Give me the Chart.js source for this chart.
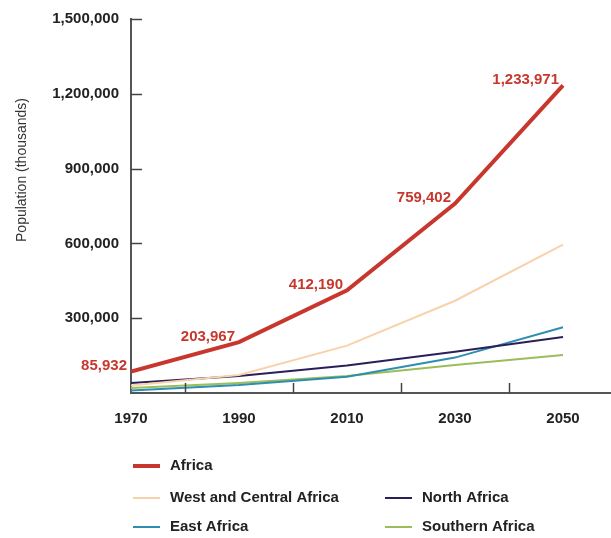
<!DOCTYPE html>
<html>
<head>
<meta charset="utf-8">
<script src="https://cdn.jsdelivr.net/npm/chart.js@4/dist/chart.umd.min.js"></script>
<style>
  html, body { margin: 0; padding: 0; background: #fff; }
  #wrap { width: 611px; height: 538px; position: relative; }
</style>
</head>
<body>
<div id="wrap"><canvas id="chart" width="611" height="538"></canvas></div>
<script>
// years shown on the x axis (data points every 20 years)
const years = [1970, 1990, 2010, 2030, 2050];
const minorYears = [1980, 2000, 2020, 2040];
const yTicks = [300000, 600000, 900000, 1200000, 1500000];

// urban population, thousands
const africa = [85932, 203967, 412190, 759402, 1233971];
const westCentral = [30000, 72000, 190000, 370000, 595000];
const northAfrica = [40000, 68000, 110000, 165000, 225000];
const eastAfrica = [10000, 32000, 65000, 142000, 264000];
const southernAfrica = [20000, 40000, 68000, 112000, 152000];

const FONT = "'Liberation Sans', Arial, sans-serif";

function pts(vals) {
    return years.map((y, i) => ({x: y, y: vals[i]}));
}

const datasets = [
    {label: 'Africa', data: pts(africa), borderColor: '#c8372d', borderWidth: 4},
    {label: 'West and Central Africa', data: pts(westCentral), borderColor: '#f8d2aa', borderWidth: 2},
    {label: 'North Africa', data: pts(northAfrica), borderColor: '#2b1f5a', borderWidth: 2},
    {label: 'East Africa', data: pts(eastAfrica), borderColor: '#2f8db0', borderWidth: 2},
    {label: 'Southern Africa', data: pts(southernAfrica), borderColor: '#9bbd5a', borderWidth: 2},
].map(d => Object.assign(d, {pointRadius: 0, tension: 0, fill: false}));

// inward tick marks, value labels, axis title and the legend
const extras = {
    id: 'extras',
    afterDatasetsDraw(chart) {
        const ctx = chart.ctx;
        const xs = chart.scales.x, ys = chart.scales.y;
        const area = chart.chartArea;
        ctx.save();
        ctx.strokeStyle = '#444';
        ctx.lineWidth = 1.5;
        yTicks.forEach(v => {
            const py = Math.round(ys.getPixelForValue(v)) + 0.5;
            ctx.beginPath();
            ctx.moveTo(area.left, py);
            ctx.lineTo(area.left + 11, py);
            ctx.stroke();
        });
        minorYears.forEach(v => {
            const px = Math.round(xs.getPixelForValue(v)) + 0.5;
            ctx.beginPath();
            ctx.moveTo(px, area.bottom);
            ctx.lineTo(px, area.bottom - 10);
            ctx.stroke();
        });

        // Africa value labels
        ctx.fillStyle = '#c8372d';
        ctx.font = 'bold 15px ' + FONT;
        ctx.textAlign = 'right';
        ctx.textBaseline = 'bottom';
        africa.forEach((v, i) => {
            const px = xs.getPixelForValue(years[i]);
            const py = ys.getPixelForValue(v);
            ctx.fillText(v.toLocaleString('en-US'), px - 4, py + 2);
        });

        // y axis title
        ctx.fillStyle = '#333';
        ctx.font = '14px ' + FONT;
        ctx.textAlign = 'center';
        ctx.textBaseline = 'middle';
        ctx.translate(22, 170);
        ctx.rotate(-Math.PI / 2);
        ctx.fillText('Population (thousands)', 0, 0);
        ctx.restore();

        // legend: Africa alone, then two columns
        const slots = [[133, 466], [133, 498], [385, 498], [133, 527], [385, 527]];
        ctx.save();
        ctx.font = 'bold 15px ' + FONT;
        ctx.textAlign = 'left';
        ctx.textBaseline = 'middle';
        chart.data.datasets.forEach((d, i) => {
            const [lx, ly] = slots[i];
            ctx.strokeStyle = d.borderColor;
            ctx.lineWidth = d.borderWidth;
            ctx.beginPath();
            ctx.moveTo(lx, ly);
            ctx.lineTo(lx + 27, ly);
            ctx.stroke();
            ctx.fillStyle = '#222';
            ctx.fillText(d.label, lx + 37, ly);
        });
        ctx.restore();
    }
};

new Chart(document.getElementById('chart'), {
    type: 'line',
    data: {datasets},
    options: {
        responsive: false,
        animation: false,
        layout: {padding: {top: 19, right: 1, bottom: 115, left: 0}},
        plugins: {legend: {display: false}, tooltip: {enabled: false}},
        scales: {
            x: {
                type: 'linear',
                min: 1970,
                max: 2058.7,
                afterBuildTicks: s => { s.ticks = years.map(v => ({value: v})); },
                afterFit: s => { s.height = 30; },
                grid: {display: false},
                border: {color: '#555', width: 2},
                ticks: {
                    padding: 9,
                    color: '#222',
                    font: {family: FONT, size: 15, weight: 'bold'},
                    maxRotation: 0,
                    callback: v => String(v)
                }
            },
            y: {
                min: 0,
                max: 1500000,
                afterBuildTicks: s => { s.ticks = yTicks.map(v => ({value: v})); },
                afterFit: s => { s.width = 131; },
                grid: {display: false},
                border: {color: '#555', width: 2},
                ticks: {
                    padding: 4,
                    color: '#222',
                    font: {family: FONT, size: 15, weight: 'bold'},
                    callback: v => v.toLocaleString('en-US')
                }
            }
        }
    },
    plugins: [extras]
});
</script>
</body>
</html>
